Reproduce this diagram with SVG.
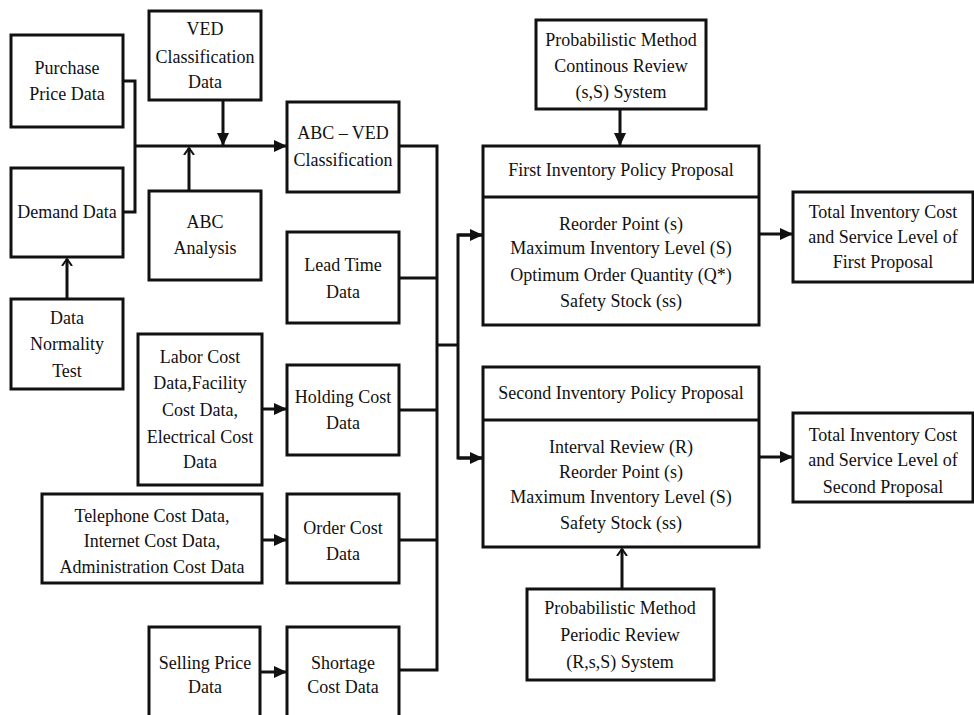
<svg xmlns="http://www.w3.org/2000/svg" width="974" height="715" viewBox="0 0 974 715" font-family="'Liberation Serif', 'Times New Roman', 'DejaVu Serif', serif">
<style>
.box{fill:#fff;stroke:#111;stroke-width:3}
.ln{fill:none;stroke:#111;stroke-width:3}
text{font-family:'Liberation Serif','Times New Roman','DejaVu Serif',serif;font-size:18px;fill:#111;text-anchor:middle}
</style>
<defs>
<marker id="a" markerUnits="userSpaceOnUse" markerWidth="14" markerHeight="12" refX="13" refY="6" orient="auto">
<path d="M0,0 L13,6 L0,12 Z" fill="#111"/>
</marker>
<marker id="o" markerUnits="userSpaceOnUse" markerWidth="10" markerHeight="12" refX="7" refY="6" orient="auto">
<path d="M0,1 L7,6 L0,11" fill="none" stroke="#111" stroke-width="2"/>
</marker>
</defs>
<rect width="974" height="715" fill="#fff"/>
<g id="connectors">
<polyline class="ln" points="123,81 135,81 135,212 123,212"/>
<line class="ln" x1="135" y1="146" x2="287" y2="146" marker-end="url(#a)"/>
<line class="ln" x1="223" y1="100" x2="223" y2="146" marker-end="url(#a)"/>
<line class="ln" x1="189" y1="191" x2="189" y2="148" marker-end="url(#o)"/>
<line class="ln" x1="67" y1="299" x2="67" y2="259" marker-end="url(#o)"/>
<polyline class="ln" points="399,146 437,146 437,670 399,670"/>
<line class="ln" x1="399" y1="278" x2="437" y2="278"/>
<line class="ln" x1="399" y1="410" x2="437" y2="410"/>
<line class="ln" x1="399" y1="540" x2="437" y2="540"/>
<line class="ln" x1="437" y1="345" x2="458" y2="345"/>
<polyline class="ln" points="483,235 458,235 458,458 483,458"/>
<line class="ln" x1="458" y1="235" x2="483" y2="235" marker-end="url(#a)"/>
<line class="ln" x1="458" y1="458" x2="483" y2="458" marker-end="url(#a)"/>
<line class="ln" x1="262" y1="409" x2="287" y2="409" marker-end="url(#a)"/>
<line class="ln" x1="262" y1="540" x2="287" y2="540" marker-end="url(#a)"/>
<line class="ln" x1="260" y1="672" x2="287" y2="672" marker-end="url(#a)"/>
<line class="ln" x1="620" y1="109" x2="620" y2="146" marker-end="url(#a)"/>
<line class="ln" x1="622" y1="589" x2="622" y2="549" marker-end="url(#o)"/>
<line class="ln" x1="759" y1="234" x2="793" y2="234" marker-end="url(#a)"/>
<line class="ln" x1="759" y1="457" x2="793" y2="457" marker-end="url(#a)"/>
</g>
<g id="purchase"><rect class="box" x="11" y="35" width="112" height="92"/><text x="67" y="74">Purchase</text><text x="67" y="100">Price Data</text></g>
<g id="demand"><rect class="box" x="11" y="168" width="112" height="89"/><text x="67" y="218">Demand Data</text></g>
<g id="normality"><rect class="box" x="11" y="299" width="112" height="90"/><text x="67" y="324">Data</text><text x="67" y="350">Normality</text><text x="67" y="377">Test</text></g>
<g id="ved"><rect class="box" x="149" y="11" width="112" height="89"/><text x="205" y="35">VED</text><text x="205" y="63">Classification</text><text x="205" y="88">Data</text></g>
<g id="abc"><rect class="box" x="149" y="191" width="112" height="89"/><text x="205" y="228">ABC</text><text x="205" y="254">Analysis</text></g>
<g id="abcved"><rect class="box" x="287" y="102" width="112" height="90"/><text x="343" y="139">ABC – VED</text><text x="343" y="166">Classification</text></g>
<g id="leadtime"><rect class="box" x="287" y="232" width="112" height="91"/><text x="343" y="271">Lead Time</text><text x="343" y="298">Data</text></g>
<g id="labor"><rect class="box" x="138" y="334" width="124" height="151"/><text x="200" y="363">Labor Cost</text><text x="200" y="389">Data,Facility</text><text x="200" y="416">Cost Data,</text><text x="200" y="443">Electrical Cost</text><text x="200" y="468">Data</text></g>
<g id="holding"><rect class="box" x="287" y="365" width="112" height="90"/><text x="343" y="403">Holding Cost</text><text x="343" y="429">Data</text></g>
<g id="telephone"><rect class="box" x="42" y="494" width="220" height="89"/><text x="152" y="522">Telephone Cost Data,</text><text x="152" y="547">Internet Cost Data,</text><text x="152" y="573">Administration Cost Data</text></g>
<g id="order"><rect class="box" x="287" y="494" width="112" height="89"/><text x="343" y="534">Order Cost</text><text x="343" y="560">Data</text></g>
<g id="selling"><rect class="box" x="149" y="627" width="111" height="92"/><text x="205" y="669">Selling Price</text><text x="205" y="693">Data</text></g>
<g id="shortage"><rect class="box" x="287" y="627" width="112" height="92"/><text x="343" y="669">Shortage</text><text x="343" y="693">Cost Data</text></g>
<g id="continuous"><rect class="box" x="536" y="20" width="170" height="89"/><text x="621" y="46">Probabilistic Method</text><text x="621" y="72">Continous Review</text><text x="621" y="98">(s,S) System</text></g>
<g id="first"><rect class="box" x="483" y="146" width="276" height="179"/><line class="ln" x1="483" y1="197" x2="759" y2="197"/><text x="621" y="176">First Inventory Policy Proposal</text><text x="621" y="230">Reorder Point (s)</text><text x="621" y="254">Maximum Inventory Level (S)</text><text x="621" y="281">Optimum Order Quantity (Q*)</text><text x="621" y="307">Safety Stock (ss)</text></g>
<g id="total1"><rect class="box" x="793" y="192" width="180" height="90"/><text x="883" y="218">Total Inventory Cost</text><text x="883" y="243">and Service Level of</text><text x="883" y="268">First Proposal</text></g>
<g id="second"><rect class="box" x="483" y="367" width="276" height="180"/><line class="ln" x1="483" y1="420" x2="759" y2="420"/><text x="621" y="399">Second Inventory Policy Proposal</text><text x="621" y="453">Interval Review (R)</text><text x="621" y="478">Reorder Point (s)</text><text x="621" y="503">Maximum Inventory Level (S)</text><text x="621" y="529">Safety Stock (ss)</text></g>
<g id="total2"><rect class="box" x="793" y="413" width="180" height="89"/><text x="883" y="441">Total Inventory Cost</text><text x="883" y="466">and Service Level of</text><text x="883" y="493">Second Proposal</text></g>
<g id="periodic"><rect class="box" x="527" y="589" width="187" height="91"/><text x="620" y="614">Probabilistic Method</text><text x="620" y="641">Periodic Review</text><text x="620" y="668">(R,s,S) System</text></g>
</svg>
